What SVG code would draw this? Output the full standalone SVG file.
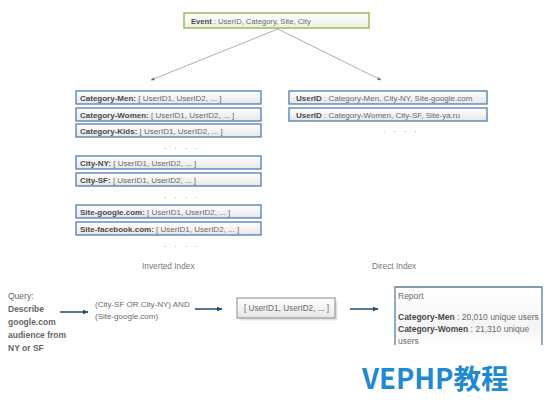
<svg xmlns="http://www.w3.org/2000/svg" width="550" height="406" viewBox="0 0 550 406">
<style>
text{font-family:"Liberation Sans","Noto Sans",sans-serif;font-size:8px;fill:#6a6a6a}
.b{font-weight:bold;fill:#4a4a4a}
.ib{fill:url(#gb);stroke:#4f7eb0;stroke-width:1.3}
.dots{font-size:8px;fill:#888;letter-spacing:3px}
.lbl{font-size:8.3px;fill:#777}
.q{font-size:8.5px;fill:#666}
.conn{stroke:#9a9a9a;stroke-width:0.8;fill:none}
.arr{stroke:#1f4e6e;stroke-width:1.5;fill:none}
</style>
<defs>
<linearGradient id="gb" x1="0" y1="0" x2="0" y2="1"><stop offset="0" stop-color="#ffffff"/><stop offset="1" stop-color="#e6e6e6"/></linearGradient>
<linearGradient id="gg" x1="0" y1="0" x2="0" y2="1"><stop offset="0" stop-color="#ffffff"/><stop offset="1" stop-color="#eaf0e0"/></linearGradient>
<linearGradient id="gr" x1="0" y1="0" x2="0" y2="1"><stop offset="0" stop-color="#ffffff"/><stop offset="0.7" stop-color="#f4f4f4"/><stop offset="1" stop-color="#ffffff"/></linearGradient>
<marker id="ah" viewBox="0 0 10 10" refX="9" refY="5" markerWidth="5" markerHeight="5" orient="auto"><path d="M0,1 L10,5 L0,9 z" fill="#707070"/></marker>
<marker id="ah2" viewBox="0 0 10 10" refX="9" refY="5" markerWidth="4" markerHeight="4" orient="auto"><path d="M0,1 L10,5 L0,9 z" fill="#1f4e6e"/></marker>
</defs>
<rect width="550" height="406" fill="#ffffff"/>
<g id="connectors">
<line class="conn" x1="278" y1="29" x2="151" y2="80" marker-end="url(#ah)"/>
<line class="conn" x1="278" y1="29" x2="381" y2="80" marker-end="url(#ah)"/>
<line class="arr" x1="60" y1="312" x2="88" y2="312" marker-end="url(#ah2)"/>
<line class="arr" x1="195" y1="309" x2="222" y2="309" marker-end="url(#ah2)"/>
<line class="arr" x1="350" y1="309" x2="378" y2="309" marker-end="url(#ah2)"/>
</g>
<g id="event">
<rect x="184" y="13" width="185" height="15" fill="url(#gg)" stroke="#9bbb59" stroke-width="1.5"/>
<text x="191" y="23.5" style="font-size:7.6px"><tspan class="b">Event</tspan> : UserID, Category, Site, City</text>
</g>
<g id="inv-men"><rect class="ib" x="76" y="91" width="185" height="13"/><text x="80" y="100.5"><tspan class="b">Category-Men:</tspan> [ UserID1, UserID2, ... ]</text></g>
<g id="inv-women"><rect class="ib" x="76" y="108" width="185" height="13"/><text x="80" y="117.5"><tspan class="b">Category-Women:</tspan> [ UserID1, UserID2, ... ]</text></g>
<g id="inv-kids"><rect class="ib" x="76" y="124" width="185" height="13"/><text x="80" y="133.5"><tspan class="b">Category-Kids:</tspan> [ UserID1, UserID2, ... ]</text></g>
<text class="dots" x="164" y="149">. . . .</text>
<g id="inv-ny"><rect class="ib" x="76" y="156" width="185" height="13"/><text x="80" y="165.5"><tspan class="b">City-NY:</tspan> [ UserID1, UserID2, ... ]</text></g>
<g id="inv-sf"><rect class="ib" x="76" y="173" width="185" height="13"/><text x="80" y="182.5"><tspan class="b">City-SF:</tspan> [ UserID1, UserID2, ... ]</text></g>
<text class="dots" x="164" y="198">. . . .</text>
<g id="inv-google"><rect class="ib" x="76" y="205" width="185" height="13"/><text x="80" y="214.5"><tspan class="b">Site-google.com:</tspan> [ UserID1, UserID2, ... ]</text></g>
<g id="inv-facebook"><rect class="ib" x="76" y="222" width="185" height="13"/><text x="80" y="231.5"><tspan class="b">Site-facebook.com:</tspan> [ UserID1, UserID2, ... ]</text></g>
<text class="dots" x="164" y="247">. . . .</text>
<g id="dir-1"><rect class="ib" x="289" y="91" width="198" height="13"/><text x="296" y="100.5"><tspan class="b">UserID</tspan> : Category-Men, City-NY, Site-google.com</text></g>
<g id="dir-2"><rect class="ib" x="289" y="108" width="198" height="13"/><text x="296" y="117.5"><tspan class="b">UserID</tspan> : Category-Women, City-SF, Site-ya.ru</text></g>
<text class="dots" x="383" y="132">. . . .</text>
<text class="lbl" x="142" y="269">Inverted Index</text>
<text class="lbl" x="372" y="269">Direct Index</text>
<g id="query">
<text class="q" x="8" y="299">Query:</text>
<text class="q b" x="8" y="312">Describe</text>
<text class="q b" x="8" y="325">google.com</text>
<text class="q b" x="8" y="338">audience from</text>
<text class="q b" x="8" y="351">NY or SF</text>
</g>
<g id="expr">
<text x="95" y="307">(City-SF OR City-NY) AND</text>
<text x="95" y="319">(Site-google.com)</text>
</g>
<g id="result">
<rect x="238" y="299" width="98" height="20" fill="#c8c8c8" opacity="0.5" transform="translate(1.5,1.5)"/>
<rect x="237" y="298" width="98" height="20" fill="url(#gb)" stroke="#8a8a8a" stroke-width="1"/>
<text x="244" y="311" style="font-size:8.2px">[ UserID1, UserID2, ... ]</text>
</g>
<g id="report">
<path d="M395,345 V287 H542 V345" fill="url(#gr)" stroke="#5a7f9a" stroke-width="1.3"/>
<text x="398" y="299" style="font-size:8.5px">Report</text>
<text x="398" y="320" style="font-size:8.5px"><tspan class="b">Category-Men</tspan> : 20,010 unique users</text>
<text x="398" y="332" style="font-size:8.5px"><tspan class="b">Category-Women</tspan> : 21,310 unique</text>
<text x="398" y="344" style="font-size:8.5px">users</text>
</g>
<text x="362" y="389" style="font-family:'Noto Sans CJK SC','Noto Sans',sans-serif;font-size:27.5px;font-weight:bold;fill:#1f8ad2">VEPHP教程</text>
</svg>
